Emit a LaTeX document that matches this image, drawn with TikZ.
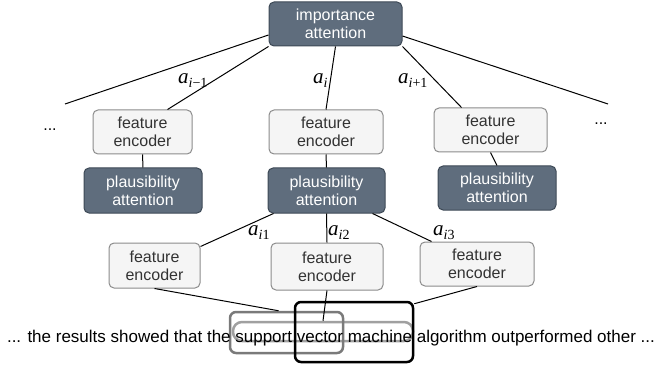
\documentclass[tikz,border=0pt]{standalone}
\usepackage{fontspec}
\setmainfont{Liberation Sans}
\newfontfamily\tmsfont{Liberation Serif}
\definecolor{darkfill}{HTML}{5F6D7D}
\definecolor{darkedge}{HTML}{3D4956}
\definecolor{lightfill}{HTML}{F5F5F5}
\definecolor{lightedge}{HTML}{8C8C8C}
\definecolor{lighttext}{HTML}{333333}
\definecolor{hlgray}{HTML}{7A7A7A}
\definecolor{hlpill}{HTML}{A0A0A0}
\newcommand{\wlab}[2]{{\fontsize{21}{21}\tmsfont\itshape a}\raisebox{-4pt}{\fontsize{14}{14}\tmsfont\itshape #1\upshape #2}}
\begin{document}
\begin{tikzpicture}[x=1pt,y=-1pt,
  box/.style={rounded corners=5pt, line width=1pt, align=center, inner sep=0pt,
    font=\fontsize{16}{18}\selectfont},
  fe/.style={box, draw=lightedge, fill=lightfill, text=lighttext},
  pa/.style={box, draw=darkedge, fill=darkfill, text=white},
  conn/.style={line width=1pt, black},
  lbl/.style={inner sep=0pt, anchor=base west},
  dots/.style={inner sep=0pt, font=\fontsize{16}{18}\selectfont},
  hl/.style={line width=2.5pt, rounded corners=6pt, inner sep=0pt}]
\useasboundingbox (0,0) rectangle (655,366);

% nodes
\node[pa, minimum width=133pt, minimum height=44pt] (imp) at (335.5,24) {importance\\attention};
\node[fe, minimum width=99pt, minimum height=44pt] (fe1) at (142.5,132) {feature\\encoder};
\node[fe, minimum width=114pt, minimum height=44pt] (fe2) at (326,132) {feature\\encoder};
\node[fe, minimum width=113pt, minimum height=44pt] (fe3) at (490.5,130) {feature\\encoder};
\node[pa, minimum width=118pt, minimum height=45pt] (p1) at (143,190.5) {plausibility\\attention};
\node[pa, minimum width=117pt, minimum height=45pt] (p2) at (326.5,190.5) {plausibility\\attention};
\node[pa, minimum width=118pt, minimum height=44pt] (p3) at (497,188) {plausibility\\attention};
\node[fe, minimum width=91pt, minimum height=45pt] (fe4) at (154.5,265.5) {feature\\encoder};
\node[fe, minimum width=112pt, minimum height=47pt] (fe5) at (327,266.5) {feature\\encoder};
\node[fe, minimum width=114pt, minimum height=44pt] (fe6) at (477,264) {feature\\encoder};

\node[dots] (dotsl) at (50,130) {...};
\node[dots] (dotsr) at (601,124) {...};

\coordinate (lend) at (65,104);
\coordinate (rend) at (608,104);

% weight labels
\node[lbl] (la1) at (178,84) {\wlab{i}{−1}};
\node[lbl] (la2) at (313,84) {\wlab{i}{}};
\node[lbl] (la3) at (398,84) {\wlab{i}{+1}};
\node[lbl] (lb1) at (248,235) {\wlab{i}{1}};
\node[lbl] (lb2) at (328,235) {\wlab{i}{2}};
\node[lbl] (lb3) at (433,235) {\wlab{i}{3}};

% highlights
\node[hl, draw=hlpill, rounded corners=9pt, minimum width=180pt, minimum height=19pt] (pill) at (323,331.5) {};
\node[hl, draw=hlgray, minimum width=113pt, minimum height=41pt] (gbox) at (286.5,332.5) {};
\node[hl, draw=black, minimum width=118pt, minimum height=60pt] (bbox) at (354,332) {};

\node[inner sep=0pt, anchor=base, font=\fontsize{17}{20}\selectfont] (sent) at (331,342)
  {... the results showed that the support vector machine algorithm outperformed other ...};

% connectors
\draw[conn] ([yshift=-11pt]imp.west) -- (lend);
\draw[conn] (imp.south west) -- ([xshift=-25pt]fe1.north east);
\draw[conn] (imp.south) -- (fe2.north);
\draw[conn] (imp.south east) -- ([xshift=28pt]fe3.north west);
\draw[conn] ([yshift=-12pt]imp.east) -- (rend);

\draw[conn] (fe1.south) -- (p1.north);
\draw[conn] (fe2.south) -- (p2.north);
\draw[conn] (fe3.south) -- (p3.north);

\draw[conn] ([xshift=6pt]p2.south west) -- ([yshift=-4pt]fe4.north east);
\draw[conn] (p2.south) -- (fe5.north);
\draw[conn] ([xshift=-13pt]p2.south east) -- ([xshift=12pt]fe6.north west);

\draw[conn] (fe4.south) -- ([xshift=-8pt]gbox.north);
\draw[conn] (fe5.south) -- (pill.north);
\draw[conn] (fe6.south) -- ([yshift=-3pt]bbox.north east);
\end{tikzpicture}
\end{document}
